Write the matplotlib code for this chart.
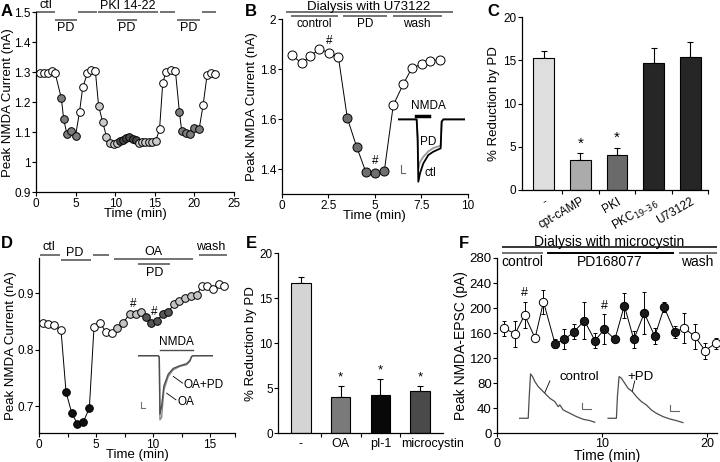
import numpy as np
import matplotlib
matplotlib.use('Agg')
import matplotlib.pyplot as plt
import matplotlib.transforms as mtransforms

plt.rcParams['font.family'] = ['Liberation Sans', 'DejaVu Sans']
plt.rcParams['axes.linewidth'] = 0.9

W, H = 720, 462

# ---------------- data ----------------
# A: PD effect, PKI 14-22 dialysis
a_time = [0.5, 1.0, 1.5, 2.0, 2.4,
          3.2, 3.5, 3.9, 4.4, 5.0,
          5.5, 5.9, 6.5, 7.0, 7.5,
          7.9, 8.4, 8.9, 9.3, 9.8, 10.2,
          10.6, 11.0, 11.4, 11.8, 12.2, 12.6,
          13.0, 13.4, 13.8, 14.3, 14.7, 15.1,
          15.6, 16.0, 16.4, 17.0, 17.6,
          18.1, 18.4, 19.0, 19.4, 20.0, 20.6,
          21.1, 21.6, 22.1, 22.6]
a_curr = [1.297, 1.297, 1.299, 1.305, 1.299,
          1.213, 1.143, 1.095, 1.105, 1.089,
          1.169, 1.250, 1.297, 1.308, 1.303,
          1.189, 1.136, 1.085, 1.063, 1.060, 1.065,
          1.072, 1.076, 1.080, 1.083, 1.079, 1.075,
          1.066, 1.068, 1.069, 1.069, 1.069, 1.070,
          1.110, 1.263, 1.302, 1.308, 1.305,
          1.169, 1.104, 1.097, 1.094, 1.113, 1.111,
          1.191, 1.291, 1.297, 1.294]
a_cond = (['ctl'] * 5 + ['pd'] * 5 + ['ctl'] * 5 + ['pki'] * 6 + ['pkipd'] * 6
          + ['pki'] * 6 + ['ctl'] * 5 + ['pd'] * 6 + ['ctl'] * 4)
a_bars_top = [(0, 2.4), (5.3, 7.7), (7.8, 15.4), (15.6, 17.5), (21.0, 22.7)]
a_bars_pd = [(2.4, 5.2), (10.2, 12.7), (17.8, 20.7)]

# B: U73122 dialysis
b_time = [0.54, 1.08, 1.52, 2.03, 2.54, 3.05, 3.53, 4.03, 4.52, 5.02, 5.52,
          6.0, 6.54, 6.99, 7.53, 7.97, 8.51]
b_curr = [1.857, 1.824, 1.853, 1.880, 1.867, 1.848, 1.604, 1.490, 1.390, 1.386,
          1.395, 1.657, 1.741, 1.804, 1.821, 1.835, 1.837]
b_cond = ['ctl'] * 6 + ['pd'] * 5 + ['ctl'] * 6
b_hash = [4, 9]
# inset traces (ms, arbitrary current units)
b_tr_t = [0, 55, 58, 60, 65, 75, 90, 105, 120, 127, 130, 135, 200]
b_tr_ctl = [0, 0, -60, -187, -162, -132, -107, -97, -90, -87, -7, 0, 0]
b_tr_pd = [0, 0, -55, -150, -128, -112, -96, -86, -81, -79, -6, 0, 0]

# C
c_labels = ['-', 'cpt-cAMP', 'PKI', 'PKC$_{19\u201336}$', 'U73122']
c_vals = [15.25, 3.45, 4.1, 14.7, 15.4]
c_err = [0.9, 0.8, 0.8, 1.8, 1.7]
c_colors = ['#dedede', '#ababab', '#6a6a6a', '#262626', '#262626']
c_star = [False, True, True, False, False]

# D: okadaic acid
d_time = [0.30, 0.79, 1.32, 1.91, 2.35, 2.85, 3.34, 3.87, 4.40, 4.81, 5.33,
          5.83, 6.36, 6.86, 7.38, 7.97, 8.50, 8.91, 9.38, 9.79, 10.32, 10.84,
          11.34, 11.84, 12.30, 12.80, 13.30, 13.83, 14.27, 14.76, 15.24, 15.79,
          16.26]
d_curr = [0.848, 0.846, 0.844, 0.834, 0.725, 0.688, 0.669, 0.672, 0.697, 0.841,
          0.848, 0.832, 0.830, 0.838, 0.848, 0.864, 0.863, 0.866, 0.857, 0.847,
          0.850, 0.864, 0.867, 0.881, 0.887, 0.891, 0.895, 0.896, 0.913, 0.913,
          0.907, 0.917, 0.913]
d_cond = (['ctl'] * 4 + ['pd'] * 5 + ['ctl'] * 4 + ['oa'] * 5 + ['oapd'] * 5
          + ['oa'] * 5 + ['ctl'] * 5)
d_hash = [16, 20]
d_tr_t = [0, 60, 63, 65, 70, 77, 90, 105, 125, 145, 155, 160, 165, 225]
d_tr_oa = [0, 0, -5, -192, -185, -102, -62, -42, -32, -27, -17, -3, 0, 0]
d_tr_oapd = [0, 0, -5, -175, -150, -90, -55, -38, -30, -24, -14, -2, 0, 0]

# E
e_labels = ['-', 'OA', 'pI-1', 'microcystin']
e_vals = [16.75, 4.05, 4.3, 4.7]
e_err = [0.65, 1.2, 1.75, 0.55]
e_colors = ['#d4d4d4', '#7a7a7a', '#080808', '#4a4a4a']
e_star = [False, True, True, True]

# F: microcystin dialysis, EPSCs
f_time = [0.6, 1.7, 2.6, 3.6, 4.4, 5.5, 6.4, 7.3, 8.3, 9.3, 10.2, 11.2, 12.1,
          13.0, 14.0, 15.0, 15.9, 16.9, 17.8, 18.8, 19.8, 20.8]
f_amp = [168, 159, 189, 152, 210, 143, 150, 162, 180, 148, 166, 150, 204, 150,
         192, 155, 201, 162, 168, 155, 132, 144]
f_err = [12, 21, 21, 3, 19, 7, 16, 12, 30, 12, 24, 4, 20, 13, 34, 13, 8, 9,
         24, 20, 13, 9]
f_cond = ['ctl'] * 5 + ['pd'] * 13 + ['ctl'] * 4
f_hash = [2, 10]
f_tr_ctl_t = [0, 27, 30, 34, 40, 47, 57, 67, 77, 92, 107, 117, 122, 132, 152,
              172, 192, 212, 227]
f_tr_ctl = [0, 0, 65, 133, 125, 110, 95, 85, 75, 60, 50, 35, 40, 25, 15, 5,
            -3, -7, -12]
f_tr_pd_t = [267, 292, 295, 300, 307, 317, 327, 340, 352, 367, 382, 397, 412,
             432, 452, 472, 492]
f_tr_pd = [0, 0, 65, 125, 120, 105, 90, 80, 65, 50, 40, 25, 15, 5, -2, -7, -13]

fig = plt.figure(figsize=(7.2, 4.62), dpi=100)


def axes_px(l, t, r, b):
    return fig.add_axes([l / W, 1 - b / H, (r - l) / W, (b - t) / H])


def style(ax, fs=8.5):
    for s in ['top', 'right']:
        ax.spines[s].set_visible(False)
    ax.tick_params(direction='out', length=3, width=0.8, labelsize=fs, pad=1)


def hline(ax, x0, x1, y, lw=1.1, color='0.3'):
    ax.plot([x0, x1], [y, y], color=color, lw=lw, clip_on=False,
            solid_capstyle='butt')


def inset(ax, x0, y0, w, h, xlim, ylim):
    ins = ax.inset_axes([x0, y0, w, h], transform=ax.transData)
    ins.set_xlim(xlim)
    ins.set_ylim(ylim)
    ins.axis('off')
    ins.patch.set_alpha(0)
    return ins


def scatter_line(ax, x, y, cond, cmap, ms):
    ax.plot(x, y, color='k', lw=0.7, zorder=2, clip_on=False)
    for xi, yi, c in zip(x, y, cond):
        ax.plot(xi, yi, 'o', ms=ms, mfc=cmap[c], mec='k', mew=0.7, zorder=3,
                clip_on=False)


def panel_letter(x, y, s):
    fig.text(x / W, 1 - y / H, s, fontsize=12, fontweight='bold',
             va='center', ha='left')


# ---------------- A ----------------
ax = axes_px(36, 12.3, 234, 192.3)
style(ax)
scatter_line(ax, a_time, a_curr, a_cond,
             {'ctl': 'white', 'pd': '#7d7d7d', 'pki': '#cacaca',
              'pkipd': '#4a4a4a'}, 5.5)
ax.set_xlim(0, 25)
ax.set_ylim(0.9, 1.5)
ax.set_xticks([0, 5, 10, 15, 20, 25])
ax.set_yticks([0.9, 1.0, 1.1, 1.2, 1.3, 1.4, 1.5])
ax.set_yticklabels(['0.9', '1', '1.1', '1.2', '1.3', '1.4', '1.5'])
ax.set_xlabel('Time (min)', fontsize=9.5, labelpad=-1)
ax.set_ylabel('Peak NMDA Current (nA)', fontsize=9.5, labelpad=0)
for x0, x1 in a_bars_top:
    hline(ax, x0, x1, 1.5)
for x0, x1 in a_bars_pd:
    hline(ax, x0, x1, 1.476)
    ax.text((x0 + x1) / 2, 1.468, 'PD', fontsize=9, ha='center', va='top')
ax.text(1.2, 1.503, 'ctl', fontsize=9, ha='center', va='bottom')
ax.text(11.6, 1.501, 'PKI 14-22', fontsize=9, ha='center', va='bottom')
panel_letter(1, 12, 'A')

# ---------------- B ----------------
ax = axes_px(281.7, 19.3, 467.7, 194.3)
style(ax)
scatter_line(ax, b_time, b_curr, b_cond, {'ctl': 'white', 'pd': '#6e6e6e'}, 6.5)
for i in b_hash:
    ax.annotate('#', (b_time[i], b_curr[i]), xytext=(0, 8.5),
                textcoords='offset points', ha='center', va='center', fontsize=8.5)
ax.set_xlim(0, 10)
ax.set_ylim(1.3, 2.0)
ax.set_xticks([0, 2.5, 5, 7.5, 10])
ax.set_xticklabels(['0', '2.5', '5', '7.5', '10'])
ax.set_yticks([1.4, 1.6, 1.8, 2.0])
ax.set_yticklabels(['1.4', '1.6', '1.8', '2'])
ax.set_xlabel('Time (min)', fontsize=9.5, labelpad=-1)
ax.set_ylabel('Peak NMDA Current (nA)', fontsize=9.5, labelpad=1)
ax.text(4.7, 2.049, 'Dialysis with U73122', fontsize=9.5, ha='center',
        va='center')
hline(ax, 0.23, 9.2, 2.030)
for (x0, x1), lab in zip([(0.48, 3.0), (3.3, 5.65), (5.97, 8.6)],
                         ['control', 'PD', 'wash']):
    hline(ax, x0, x1, 2.012)
    ax.text((x0 + x1) / 2, 1.982, lab, fontsize=8.5, ha='center', va='center')
ins = inset(ax, 6.27, 1.333, 3.584, 0.32, (0, 200), (-200, 40))
ins.plot(b_tr_t, b_tr_pd, color='0.6', lw=1.3)
ins.plot(b_tr_t, b_tr_ctl, color='k', lw=1.3)
ins.plot([53, 92], [10, 10], color='k', lw=2.5)
ins.text(90, 22, 'NMDA', fontsize=8.5, ha='center', va='bottom')
ins.text(90, -67, 'PD', fontsize=8.5, ha='center', va='center')
ins.text(97, -162, 'ctl', fontsize=8.5, ha='center', va='center')
ins.plot([7, 7, 20], [-137, -162, -162], color='0.4', lw=0.8)
panel_letter(245, 12, 'B')

# ---------------- C ----------------
ax = axes_px(521.7, 17.3, 707.7, 190)
style(ax)
cx = np.arange(len(c_vals))
ax.bar(cx, c_vals, width=0.56, color=c_colors, edgecolor='k', linewidth=0.8,
       zorder=2)
ax.errorbar(cx, c_vals, yerr=[np.zeros(len(c_err)), c_err], fmt='none',
            ecolor='k', elinewidth=0.8, capsize=2.5, capthick=0.8, zorder=1)
for xi, v, e, s in zip(cx, c_vals, c_err, c_star):
    if s:
        ax.text(xi, v + e + 0.3, '*', fontsize=11, ha='center', va='bottom')
ax.set_xlim(-0.6, 4.47)
ax.set_ylim(0, 20)
ax.set_yticks([0, 5, 10, 15, 20])
ax.set_xticks(cx)
ax.set_xticklabels(c_labels, rotation=30, ha='right', rotation_mode='anchor',
                   fontsize=8.5)
ax.tick_params(axis='x', length=0, pad=4)
ax.set_xticks([0.5, 1.5, 2.5, 3.5, 4.47], minor=True)
ax.tick_params(axis='x', which='minor', direction='out', length=3, width=0.8)
ax.set_ylabel('% Reduction by PD', fontsize=9.5, labelpad=2)
panel_letter(487, 12, 'C')

# ---------------- D ----------------
ax = axes_px(39.3, 257.6, 235, 433.3)
style(ax)
scatter_line(ax, d_time, d_curr, d_cond,
             {'ctl': 'white', 'pd': '#111111', 'oa': '#c4c4c4',
              'oapd': '#555555'}, 5.5)
for i in d_hash:
    ax.annotate('#', (d_time[i], d_curr[i]), xytext=(-2, 7),
                textcoords='offset points', ha='center', va='center', fontsize=8.5)
ax.set_xlim(0, 17.2)
ax.set_ylim(0.652, 0.963)
ax.set_xticks([0, 5, 10, 15])
ax.set_xticks([2.5, 7.5, 12.5, 17.2], minor=True)
ax.tick_params(axis='x', which='minor', direction='out', length=3, width=0.8)
ax.set_yticks([0.7, 0.8, 0.9])
ax.set_xlabel('Time (min)', fontsize=9.5, labelpad=-1)
ax.set_ylabel('Peak NMDA Current (nA)', fontsize=9.5, labelpad=0)
hline(ax, 0.05, 1.85, 0.968)
ax.text(0.8, 0.971, 'ctl', fontsize=9, ha='center', va='bottom')
hline(ax, 1.9, 4.5, 0.958)
ax.text(3.1, 0.961, 'PD', fontsize=9, ha='center', va='bottom')
hline(ax, 4.7, 6.1, 0.968)
hline(ax, 6.6, 13.5, 0.960)
ax.text(10.0, 0.963, 'OA', fontsize=9, ha='center', va='bottom')
hline(ax, 8.7, 11.5, 0.951)
ax.text(10.1, 0.947, 'PD', fontsize=9, ha='center', va='top')
hline(ax, 14.0, 16.5, 0.968)
ax.text(15.1, 0.971, 'wash', fontsize=9, ha='center', va='bottom')
ins = inset(ax, 8.70, 0.671, 6.59, 0.145, (0, 225), (-200, 45))
ins.plot(d_tr_t, d_tr_oa, color='0.55', lw=1.0)
ins.plot(d_tr_t, d_tr_oapd, color='0.3', lw=1.0)
ins.plot([65, 165], [18, 18], color='0.3', lw=1.0)
ins.text(115, 24, 'NMDA', fontsize=8.5, ha='center', va='bottom')
ins.plot([105, 133], [-62, -82], color='k', lw=0.6)
ins.text(137, -88, 'OA+PD', fontsize=8.5, ha='left', va='center')
ins.plot([85, 113], [-112, -132], color='k', lw=0.6)
ins.text(117, -137, 'OA', fontsize=8.5, ha='left', va='center')
ins.plot([7, 7, 20], [-137, -155, -155], color='0.45', lw=0.8)
panel_letter(1, 243, 'D')

# ---------------- E ----------------
ax = axes_px(278.3, 253.3, 443.3, 433.3)
style(ax)
ex = np.arange(len(e_vals))
ax.bar(ex, e_vals, width=0.49, color=e_colors, edgecolor='k', linewidth=0.8,
       zorder=2)
ax.errorbar(ex, e_vals, yerr=[np.zeros(len(e_err)), e_err], fmt='none',
            ecolor='k', elinewidth=0.8, capsize=2.5, capthick=0.8, zorder=1)
for xi, v, e, s in zip(ex, e_vals, e_err, e_star):
    if s:
        ax.text(xi, v + e + 0.3, '*', fontsize=9.5, ha='center', va='bottom')
ax.set_xlim(-0.57, 3.58)
ax.set_ylim(0, 20)
ax.set_yticks([0, 5, 10, 15, 20])
ax.set_xticks([])
ax.set_xticks([0.5, 1.5, 2.5], minor=True)
ax.tick_params(axis='x', which='minor', direction='out', length=3, width=0.8)
trans = mtransforms.blended_transform_factory(ax.transData, ax.transAxes)
for xi, lab in zip(ex, e_labels):
    # the long last label sits right of its bar in the original
    ax.text(xi + (0.3 if lab == 'microcystin' else 0), -0.025, lab,
            transform=trans, fontsize=9, ha='center', va='top')
ax.set_ylabel('% Reduction by PD', fontsize=9.5, labelpad=2)
panel_letter(246, 243, 'E')

# ---------------- F ----------------
ax = axes_px(497.3, 258, 716.7, 433.3)
style(ax, fs=9.5)
ax.tick_params(axis='x', labelsize=9, pad=0.5)
ax.plot(f_time, f_amp, color='k', lw=0.7, zorder=2, clip_on=False)
ax.errorbar(f_time, f_amp, yerr=f_err, fmt='none', ecolor='k', elinewidth=0.7,
            capsize=1.5, capthick=0.7, zorder=1, clip_on=False)
for xi, yi, c in zip(f_time, f_amp, f_cond):
    ax.plot(xi, yi, 'o', ms=6, mfc='white' if c == 'ctl' else '#1a1a1a',
            mec='k', mew=0.7, zorder=3, clip_on=False)
for i in f_hash:
    ax.annotate('#', (f_time[i], f_amp[i] + f_err[i]), xytext=(0, 6),
                textcoords='offset points', ha='center', va='center', fontsize=9)
ax.set_xlim(0, 20.9)
ax.set_ylim(0, 280)
ax.set_xticks([0, 10, 20])
ax.set_yticks(np.arange(0, 281, 40))
ax.set_xlabel('Time (min)', fontsize=10, labelpad=-0.5)
ax.set_ylabel('Peak NMDA-EPSC (pA)', fontsize=10, labelpad=1)
ax.text(10.7, 306, 'Dialysis with microcystin', fontsize=10, ha='center',
        va='center')
hline(ax, 0.41, 20.9, 297, color='k')
hline(ax, 0.41, 4.31, 287.5)
hline(ax, 4.75, 16.8, 287.5, lw=1.4, color='k')
hline(ax, 17.27, 20.9, 287.5)
ax.text(2.4, 274, 'control', fontsize=10, ha='center', va='center')
ax.text(10.7, 274, 'PD168077', fontsize=10, ha='center', va='center')
ax.text(19.05, 274, 'wash', fontsize=10, ha='center', va='center')
ins = inset(ax, 2.09, 13.36, 15.85, 85.2, (0, 500), (-20, 140))
ins.plot(f_tr_ctl_t, f_tr_ctl, color='0.3', lw=0.9)
ins.plot(f_tr_pd_t, f_tr_pd, color='0.3', lw=0.9)
ins.text(122, 125, 'control', fontsize=9.5, ha='left', va='center')
ins.plot([92, 77], [112, 77], color='k', lw=0.6)
ins.text(325, 125, '+PD', fontsize=9.5, ha='left', va='center')
ins.plot([347, 340], [112, 82], color='k', lw=0.6)
ins.plot([189, 189, 217], [45, 27, 27], color='0.4', lw=0.8)
ins.plot([452, 452, 480], [40, 22, 22], color='0.4', lw=0.8)
panel_letter(459, 243, 'F')

fig.savefig('out.png', dpi=100)
